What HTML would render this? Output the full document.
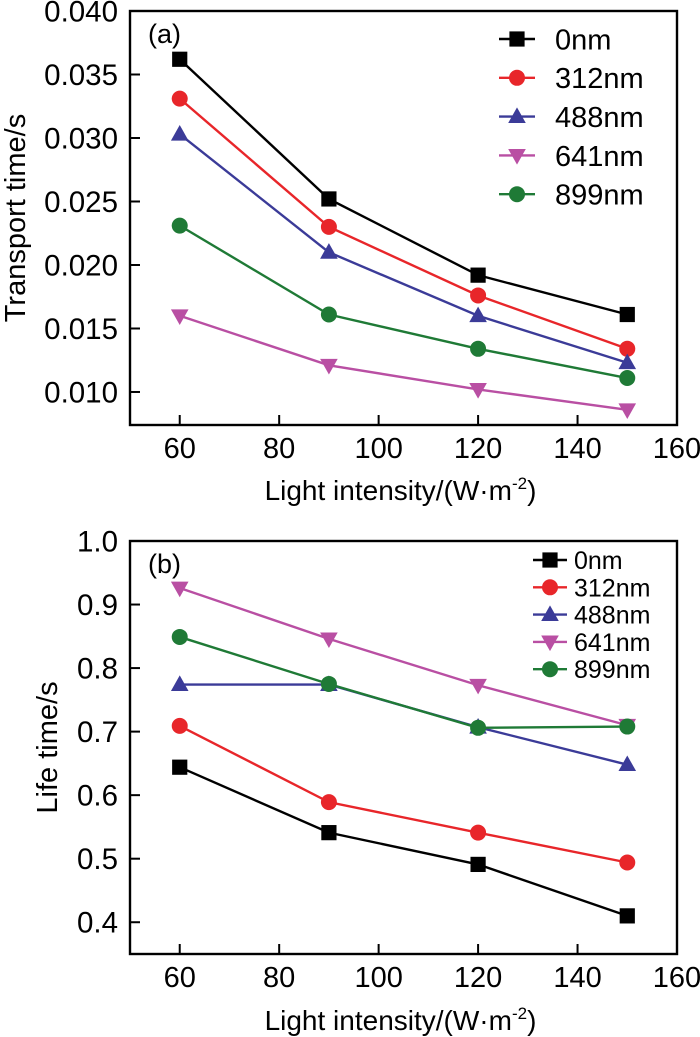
<!DOCTYPE html>
<html><head><meta charset="utf-8"><style>
html,body{margin:0;padding:0;background:#fff;}
svg{display:block;font-family:"Liberation Sans",Arial,sans-serif;}
</style></head><body>
<svg id="fig" width="700" height="1037" viewBox="0 0 700 1037"></svg>
<script>
const xCats = [60, 90, 120, 150];
const seriesNames = ["0nm","312nm","488nm","641nm","899nm"];
const transport0 = [0.0362, 0.0252, 0.0192, 0.0161];
const transport312 = [0.0331, 0.0230, 0.0176, 0.0134];
const transport488 = [0.0303, 0.0210, 0.0160, 0.0123];
const transport641 = [0.0160, 0.0121, 0.0102, 0.0086];
const transport899 = [0.0231, 0.0161, 0.0134, 0.0111];
const life0 = [0.644, 0.541, 0.491, 0.410];
const life312 = [0.709, 0.589, 0.541, 0.494];
const life488 = [0.774, 0.774, 0.707, 0.648];
const life641 = [0.926, 0.846, 0.773, 0.710];
const life899 = [0.849, 0.775, 0.706, 0.708];
const xTicks = [60, 80, 100, 120, 140, 160];
const yTicksA = ["0.010","0.015","0.020","0.025","0.030","0.035","0.040"];
const yTicksB = ["0.4","0.5","0.6","0.7","0.8","0.9","1.0"];

const colors = ["#000000","#e8262a","#3b3b98","#b94fa3","#1f7a36"];
const shapes = ["square","circle","up","down","circle"];
const NS = "http://www.w3.org/2000/svg";
const svg = document.getElementById("fig");
function mk(tag, attrs, parent){
  const e = document.createElementNS(NS, tag);
  for (const k in attrs) e.setAttribute(k, attrs[k]);
  (parent||svg).appendChild(e);
  return e;
}
function marker(g, shape, cx, cy, r, col){
  let e;
  if (shape==="square") e = mk("rect",{x:cx-r*0.95,y:cy-r*0.95,width:r*1.9,height:r*1.9,fill:col},g);
  else if (shape==="circle") e = mk("circle",{cx:cx,cy:cy,r:r,fill:col},g);
  else if (shape==="up") e = mk("polygon",{points:`${cx},${cy-r*1.15} ${cx-r*1.1},${cy+r*0.8} ${cx+r*1.1},${cy+r*0.8}`,fill:col},g);
  else e = mk("polygon",{points:`${cx},${cy+r*1.15} ${cx-r*1.1},${cy-r*0.8} ${cx+r*1.1},${cy-r*0.8}`,fill:col},g);
  return e;
}
function panel(cfg){
  const {L,R,T,B,ymin,ymax,series,yTicks,label,ytitle,leg,legFont,yTitleX,tickY,titleY,tag} = cfg;
  const g = mk("g",{});
  
  
  const xs = v => L + (v-50)/(160-50)*(R-L);
  const ys = v => B - (v-ymin)/(ymax-ymin)*(B-T);
  const frame = mk("rect",{x:L,y:T,width:R-L,height:B-T,fill:"none",stroke:"#000","stroke-width":2.4},g);
  
  
  xTicks.forEach(v=>{
    const x = xs(v);
    mk("line",{x1:x,x2:x,y1:B,y2:B-10,stroke:"#000","stroke-width":2},g);
    const t = mk("text",{x:x,y:tickY,"text-anchor":"middle","font-size":29},g);
    t.textContent = v;
    
    
  });
  yTicks.forEach(s=>{
    const y = ys(parseFloat(s));
    mk("line",{x1:L,x2:L+10,y1:y,y2:y,stroke:"#000","stroke-width":2},g);
    const t = mk("text",{x:L-12,y:y+10.5,"text-anchor":"end","font-size":29.5},g);
    t.textContent = s;
    
    
  });
  series.forEach((vals,i)=>{
    const sg = mk("g",{},g);
    
    
    const pts = vals.map((v,j)=>xs(xCats[j])+","+ys(v)).join(" ");
    mk("polyline",{points:pts,fill:"none",stroke:colors[i],"stroke-width":2.4},sg);
    vals.forEach((v,j)=>{
      const m = marker(sg, shapes[i], xs(xCats[j]), ys(v), 8, colors[i]);
      
      
    });
  });
  const pl = mk("text",{x:L+18,y:T+32,"font-size":27},g);
  pl.textContent = label;
  
  
  const xt = mk("text",{x:(L+R)/2-3,y:titleY,"text-anchor":"middle","font-size":28},g);
  xt.innerHTML = 'Light intensity/(W·m<tspan dy="-11" font-size="17">-2</tspan><tspan dy="11">)</tspan>';
  
  
  const yt = mk("text",{x:0,y:0,"text-anchor":"middle","font-size":29,transform:`translate(${yTitleX},${(T+B)/2}) rotate(-90)`},g);
  yt.textContent = ytitle;
  
  
  const lg = mk("g",{},g);
  
  
  seriesNames.forEach((n,i)=>{
    const y = leg.y0 + i*leg.dy;
    const eg = mk("g",{},lg);
    
    
    mk("line",{x1:leg.x1,x2:leg.x2,y1:y,y2:y,stroke:colors[i],"stroke-width":2.4},eg);
    marker(eg, shapes[i], (leg.x1+leg.x2)/2, y, 8, colors[i]);
    const t = mk("text",{x:leg.tx,y:y+legFont*0.36,"font-size":legFont},eg);
    t.textContent = n;
  });
}
panel({tag:"a",L:130,R:677,T:11,B:425,ymin:0.0074,ymax:0.040,
  series:[transport0,transport312,transport488,transport641,transport899],
  yTicks:yTicksA,label:"(a)",ytitle:"Transport time/s",yTitleX:25,tickY:458,titleY:500,
  leg:{x1:499,x2:535,tx:555,y0:39,dy:38.8},legFont:29});
panel({tag:"b",L:130,R:677,T:541,B:954,ymin:0.35,ymax:1.0,
  series:[life0,life312,life488,life641,life899],
  yTicks:yTicksB,label:"(b)",ytitle:"Life time/s",yTitleX:57,tickY:987,titleY:1030,
  leg:{x1:533,x2:567,tx:574,y0:560,dy:27.3},legFont:25});
</script>
</body></html>
